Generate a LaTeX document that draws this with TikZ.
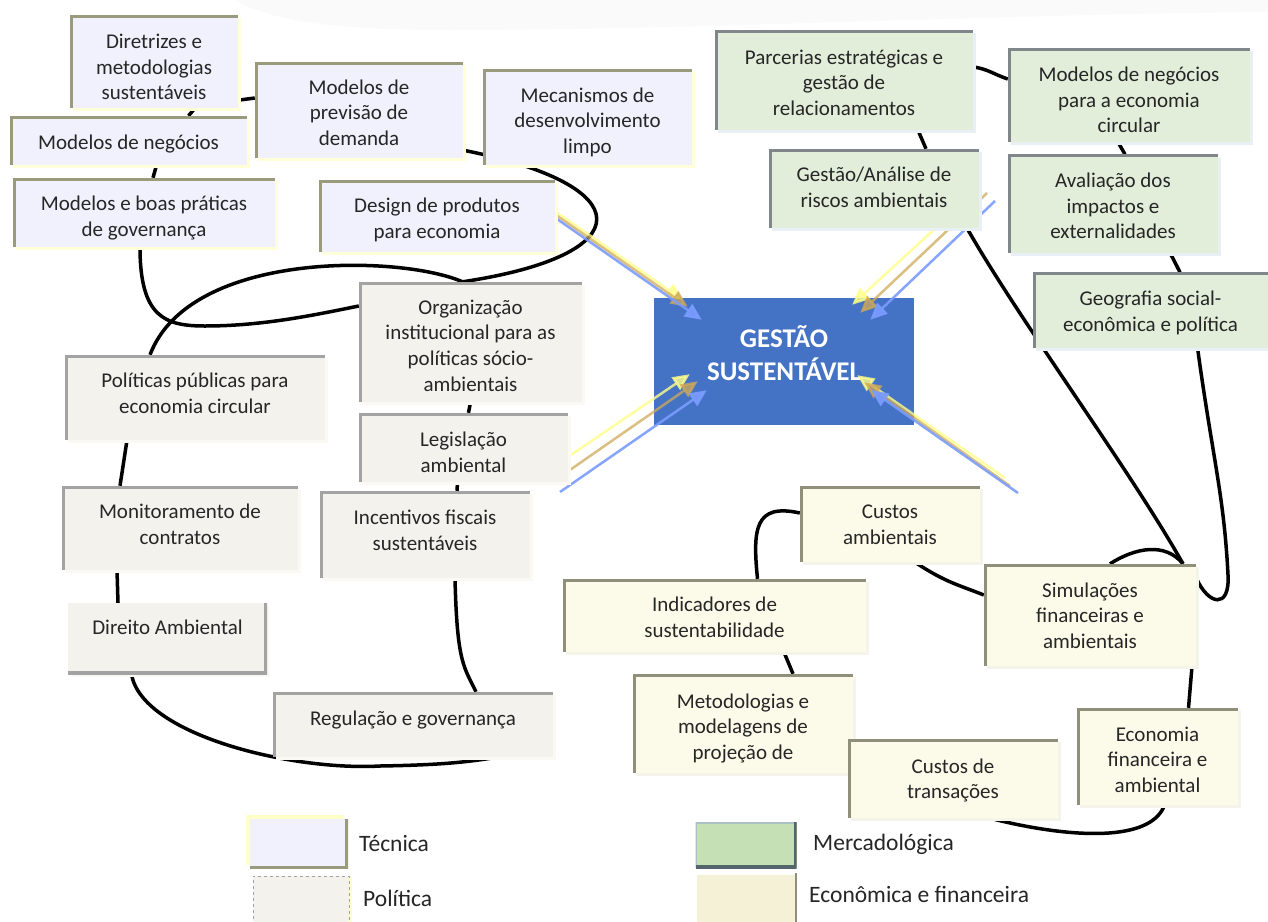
\documentclass[tikz,border=0pt]{standalone}
\usepackage{fontspec}
\setmainfont{Carlito}
\usetikzlibrary{arrows.meta,calc}
\definecolor{txt}{HTML}{262626}
\definecolor{tecF}{HTML}{F1F1FD}
\definecolor{tecB}{HTML}{9A9A7C}
\definecolor{tecS}{HTML}{FFFFD8}
\definecolor{polF}{HTML}{F4F2EC}
\definecolor{polB}{HTML}{A3A3A3}
\definecolor{polS}{HTML}{FAF9F4}
\definecolor{merF}{HTML}{E2EEDA}
\definecolor{merB}{HTML}{80868A}
\definecolor{merS}{HTML}{E8EFF5}
\definecolor{ecoF}{HTML}{FCFBEA}
\definecolor{ecoB}{HTML}{8F8F7B}
\definecolor{ecoS}{HTML}{F4F4EA}
\definecolor{central}{HTML}{4472C4}
\definecolor{arY}{HTML}{FFFF88}
\definecolor{arT}{HTML}{CFAA58}
\definecolor{arB}{HTML}{7A9CFF}
\definecolor{legM}{HTML}{C5E0B4}
\definecolor{legMB}{HTML}{53666C}
\definecolor{legMT}{HTML}{A9C1C4}
\definecolor{legE}{HTML}{F5F1D6}
\definecolor{legT}{HTML}{FFFFC8}
\pgfdeclarelayer{back}
\pgfdeclarelayer{bg}
\pgfsetlayers{back,bg,main}
\newcommand\boxfont{\fontsize{21}{25.6}\selectfont}
\newcommand\legfont{\fontsize{23.5}{28}\selectfont}
\newcommand\gsfont{\fontsize{27}{33}\selectfont\bfseries}
\newcommand\tb[1]{\begin{tabular}{@{}c@{}}#1\end{tabular}}
\tikzset{
  bframe/.style n args={2}{path picture={
    \draw[line width=5.5pt,#1] (path picture bounding box.south west) -- (path picture bounding box.north west) -- (path picture bounding box.north east);
    \draw[line width=5.5pt,#2] (path picture bounding box.north east) -- (path picture bounding box.south east) -- (path picture bounding box.south west);}},
  base/.style={rectangle, inner sep=0pt, font=\boxfont, text=txt, text height=30pt},
  td/.style={text depth=#1pt},
  tec/.style={base, fill=tecF, preaction={fill=tecS, transform canvas={xshift=3pt,yshift=-3pt}}, bframe={draw=tecB}{draw=none}},
  pol/.style={base, fill=polF, preaction={fill=polS, transform canvas={xshift=3pt,yshift=-3pt}}, bframe={draw=polB}{draw=none}},
  mer/.style={base, fill=merF, preaction={fill=merS, transform canvas={xshift=3pt,yshift=-3pt}}, bframe={draw=merB}{draw=none}},
  eco/.style={base, fill=ecoF, preaction={fill=ecoS, transform canvas={xshift=3pt,yshift=-3pt}}, bframe={draw=ecoB}{draw=none}},
  conn/.style={line width=3.5pt, black},
  arbase/.style={line width=2.5pt, -{Triangle[length=17pt,width=15pt]}},
  ary/.style={arbase, arY, opacity=0.8},
  art/.style={arbase, arT, opacity=0.75},
  arb/.style={arbase, arB, opacity=0.9},
  legtext/.style={anchor=base west, font=\legfont, text=txt, inner sep=0pt},
}
\begin{document}
\begin{tikzpicture}[x=1pt,y=-1pt]
\useasboundingbox (0,0) rectangle (1268,921);
\begin{pgfonlayer}{back}
\fill[white] (0,0) rectangle (1268,921);
\fill[black!2] (235,0) -- (1268,0) -- (1268,12) .. controls (1000,14) and (700,30) .. (450,30) .. controls (330,30) and (270,20) .. (235,0) -- cycle;
\end{pgfonlayer}

% central node
\node[rectangle, fill=central, minimum width=260pt, minimum height=127pt, inner sep=0pt,
      font=\gsfont, text=white, text height=32.5pt, text depth=28pt] (gs) at (784,361.5)
      {\tb{GESTÃO\\SUSTENTÁVEL}};

% arrows towards the central node
\coordinate (yTL) at (556,212);
\coordinate (tTL) at (556,215);
\coordinate (bTL) at (557,219);
\coordinate (yTR) at (978,189);
\coordinate (tTR) at (987,193);
\coordinate (bTR) at (995,201);
\coordinate (yBL) at (565,459);
\coordinate (tBL) at (567,472);
\coordinate (bBL) at (560,492);
\coordinate (yBR) at (1005,478);
\coordinate (tBR) at (1010,486);
\coordinate (bBR) at (1018,493);
\draw[ary] (yTL) -- ([xshift=29pt,yshift=-2pt]gs.north west);
\draw[art] (tTL) -- ([xshift=34pt,yshift=-9pt]gs.north west);
\draw[arb] (bTL) -- ([xshift=48pt,yshift=-22pt]gs.north west);
\draw[ary] (yTR) -- ([xshift=-62pt,yshift=-7pt]gs.north east);
\draw[art] (tTR) -- ([xshift=-54pt,yshift=-15pt]gs.north east);
\draw[arb] (bTR) -- ([xshift=-44pt,yshift=-22pt]gs.north east);
\draw[ary] (yBL) -- ([xshift=36pt,yshift=51pt]gs.south west);
\draw[art] (tBL) -- ([xshift=44pt,yshift=44pt]gs.south west);
\draw[arb] (bBL) -- ([xshift=53pt,yshift=35pt]gs.south west);
\draw[ary] (yBR) -- ([xshift=-57pt,yshift=50pt]gs.south east);
\draw[art] (tBR) -- ([xshift=-50pt,yshift=43pt]gs.south east);
\draw[arb] (bBR) -- ([xshift=-43pt,yshift=35pt]gs.south east);

% Tecnica
\node[tec, td=4.5, minimum width=168pt, minimum height=93pt] (dir) at (154,61.5) {\tb{Diretrizes e\\metodologias\\sustentáveis}};
\node[tec, td=11.5, minimum width=237pt, minimum height=49pt] (neg) at (128.5,140.5) {\tb{Modelos de negócios}};
\node[tec, td=7.5, minimum width=262pt, minimum height=69pt] (gov) at (144,212.5) {\tb{Modelos e boas práticas\\de governança}};
\node[tec, td=10.5, minimum width=208pt, minimum height=96pt] (prev) at (359,110) {\tb{Modelos de\\previsão de\\demanda}};
\node[tec, td=8.5, minimum width=209pt, minimum height=96pt] (mec) at (587.5,117) {\tb{Mecanismos de\\desenvolvimento\\limpo}};
\node[tec, td=10.5, minimum width=236pt, minimum height=72pt] (des) at (437,216) {\tb{Design de produtos\\para economia}};

% Politica
\node[pol, td=8.5, minimum width=223pt, minimum height=120pt] (org) at (470.5,342) {\tb{Organização\\institucional para as\\políticas sócio-\\ambientais}};
\node[pol, td=5.5, minimum width=209pt, minimum height=69pt] (leg) at (463.5,447.5) {\tb{Legislação\\ambiental}};
\node[pol, td=23.5, minimum width=260pt, minimum height=85pt] (pub) at (195,397.5) {\tb{Políticas públicas para\\economia circular}};
\node[pol, td=22.5, minimum width=236pt, minimum height=84pt] (mon) at (180,528) {\tb{Monitoramento de\\contratos}};
\node[pol, td=23.5, minimum width=210pt, minimum height=87pt] (inc) at (425,534.5) {\tb{Incentivos fiscais\\sustentáveis}};
\node[pol, td=37.5, bframe={draw=none}{draw=polB}, minimum width=199pt, minimum height=71pt] (dirA) at (167.5,638.5) {\tb{Direito Ambiental}};
\node[pol, td=27.5, minimum width=280pt, minimum height=65pt] (reg) at (413,724.5) {\tb{Regulação e governança}};

% Mercadologica
\node[mer, td=10.5, minimum width=258pt, minimum height=100pt] (par) at (844,80) {\tb{Parcerias estratégicas e\\gestão de\\relacionamentos}};
\node[mer, td=5.5, minimum width=242pt, minimum height=94pt] (mne) at (1129,95) {\tb{Modelos de negócios\\para a economia\\circular}};
\node[mer, td=17.5, minimum width=210pt, minimum height=79pt] (ges) at (874,188.5) {\tb{Gestão/Análise de\\riscos ambientais}};
\node[mer, td=10.5, minimum width=210pt, minimum height=98pt] (ava) at (1113,203.5) {\tb{Avaliação dos\\impactos e\\externalidades}};
\node[mer, td=12.5, minimum width=235pt, minimum height=75pt] (geo) at (1150.5,310) {\tb{Geografia social-\\econômica e política}};

% Economica e financeira
\node[eco, td=14.5, minimum width=180pt, minimum height=76pt] (cam) at (890,524) {\tb{Custos\\ambientais}};
\node[eco, td=14.5, minimum width=212pt, minimum height=102pt] (sim) at (1090,615) {\tb{Simulações\\financeiras e\\ambientais}};
\node[eco, td=11.5, minimum width=303pt, minimum height=73pt] (ind) at (714.5,615.5) {\tb{Indicadores de\\sustentabilidade}};
\node[eco, td=9.5, minimum width=220pt, minimum height=99pt] (met) at (743,723.5) {\tb{Metodologias e\\modelagens de\\projeção de}};
\node[eco, td=14.5, minimum width=210pt, minimum height=79pt] (ctr) at (953,778.5) {\tb{Custos de\\transações}};
\node[eco, td=9.5, minimum width=161pt, minimum height=97pt] (eco) at (1157.5,756.5) {\tb{Economia\\financeira e\\ambiental}};

% connectors (behind the boxes)
\begin{pgfonlayer}{bg}
\draw[conn] ([yshift=8pt]dir.south east) -- ([yshift=12pt]prev.west);
\draw[conn] ([xshift=41pt]dir.south) -- ([xshift=60pt]neg.north);
\draw[conn] ([xshift=28pt]neg.south) -- ([xshift=9pt]gov.north);
\draw[conn] ([xshift=-4pt]gov.south) .. controls +(0,70) and +(-40,0) .. (205,326) .. controls +(60,0) and +(-40,8) .. ([yshift=36pt]org.west);
\draw[conn] ([yshift=8pt]prev.south east) .. controls +(177,35) and +(180,-27) .. ([xshift=-8pt]org.north);
\draw[conn] ([xshift=-8pt]org.north) .. controls +(-62,-27) and +(40,-105) .. ([xshift=-45pt]pub.north);
\draw[conn] (org.south) -- ([xshift=5pt]leg.north);
\draw[conn] ([xshift=-6pt]leg.south) -- ([xshift=32pt]inc.north);
\draw[conn] ([xshift=-68pt]pub.south) -- ([xshift=-60pt]mon.north);
\draw[conn] ([xshift=-63pt]mon.south) -- ([xshift=-49.5pt]dirA.north);
\draw[conn] ([xshift=-36pt]dirA.south) .. controls +(10,60) and +(-90,5) .. (380,766) .. controls +(60,-1) and +(-30,5) .. ([xshift=84pt]reg.south);
\draw[conn] ([xshift=30pt]inc.south) .. controls +(2,85) and +(-12,-25) .. ([xshift=63pt]reg.north);
\draw[conn] ([yshift=13pt]par.east) .. controls +(15,2) and +(-15,-5) .. ([yshift=16pt]mne.west);
\draw[conn] ([xshift=74pt]par.south) -- ([xshift=52pt]ges.north);
\draw[conn] ([xshift=93pt]ges.south) .. controls +(53,93) and +(-53,-94) .. ([xshift=93pt]sim.north);
\draw[conn] ([xshift=20pt]sim.north) .. controls +(25,-16) and +(-18,-22) .. ([xshift=93pt]sim.north);
\draw[conn] ([xshift=-11pt]mne.south) -- ([xshift=12pt]ava.north);
\draw[conn] ([xshift=57pt]ava.south) -- ([xshift=29.5pt]geo.north);
\draw[conn] ([xshift=47pt]geo.south) .. controls +(15,110) and +(-4,-80) .. (1228,575) .. controls +(2,35) and +(12,27) .. ([yshift=37pt]sim.east);
\draw[conn] ([yshift=11pt]cam.west) .. controls +(-45,-10) and +(-5,-50) .. ([xshift=43pt]ind.north);
\draw[conn] ([xshift=25pt]cam.south) .. controls +(30,20) and +(-25,-10) .. ([yshift=20pt]sim.west);
\draw[conn] ([xshift=69.5pt]ind.south) -- ([xshift=50pt]met.north);
\draw[conn] ([xshift=102pt]sim.south) -- ([xshift=31pt]eco.north);
\draw[conn] ([xshift=7pt]eco.south) .. controls +(-15,40) and +(70,18) .. ([xshift=37pt]ctr.south);
\end{pgfonlayer}

% legend
\node[rectangle, inner sep=0pt, fill=tecF, minimum width=98pt, minimum height=50pt,
      preaction={fill=legT, transform canvas={xshift=-4pt,yshift=4pt}},
      bframe={draw=none}{draw=tecB}] (lt) at (299,843.5) {};
\node[legtext] (ltt) at (359,851.5) {Técnica};
\node[rectangle, inner sep=0pt, fill=polF, draw=polB, dashed, line width=0.8pt, minimum width=96pt, minimum height=50pt,
      preaction={fill=legT, transform canvas={xshift=3pt,yshift=0pt}}] (lp) at (301,901) {};
\node[legtext] (lpt) at (363,906.5) {Política};
\node[rectangle, inner sep=0pt, fill=legM, minimum width=101pt, minimum height=46pt,
      bframe={draw=legMT,line width=3pt}{draw=legMB}] (lm) at (746,845) {};
\node[legtext] (lmt) at (813,850) {Mercadológica};
\node[rectangle, inner sep=0pt, fill=legE, minimum width=101pt, minimum height=48pt,
      bframe={draw=white!90!legE,line width=3pt}{draw=none}] (le) at (745.5,897.5) {};
\draw[ecoB, line width=1.5pt] (le.north east) -- (le.south east);
\node[legtext] (let) at (809,902.3) {Econômica e financeira};
\end{tikzpicture}
\end{document}
